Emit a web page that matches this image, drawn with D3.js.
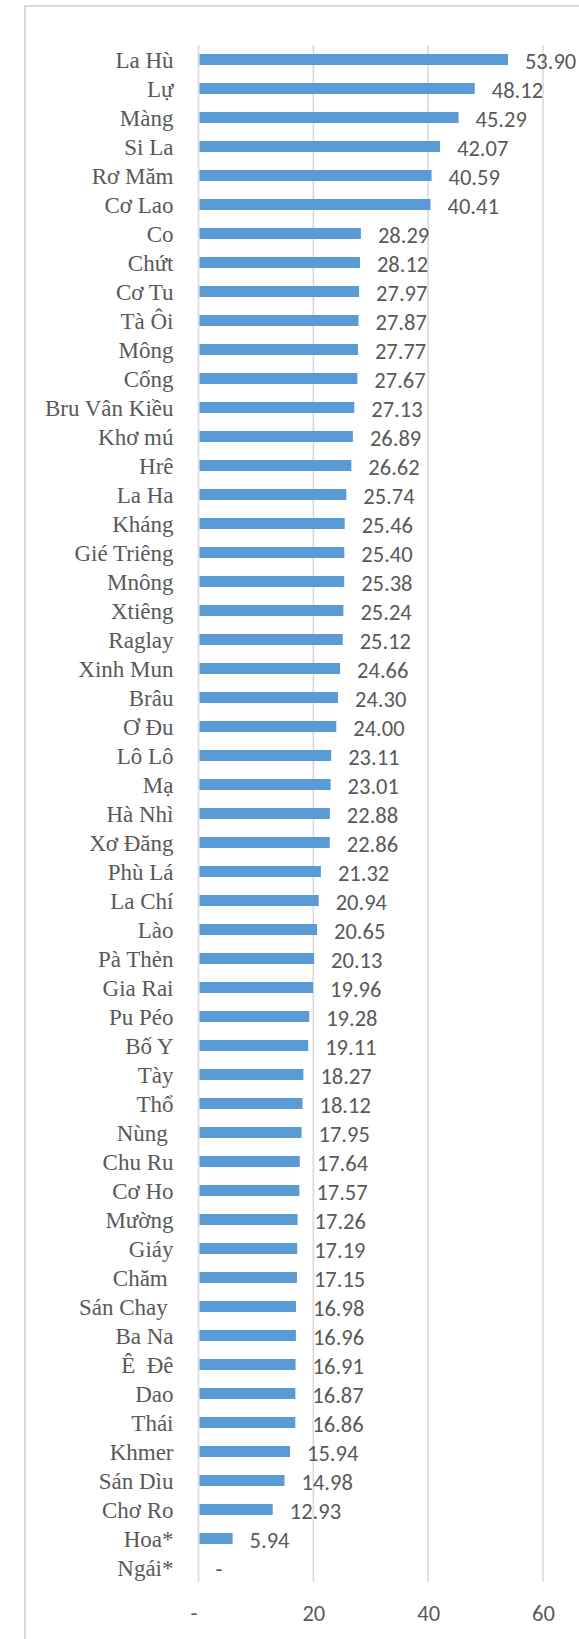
<!DOCTYPE html>
<html>
<head>
<meta charset="utf-8">
<script src="https://cdnjs.cloudflare.com/ajax/libs/d3/7.8.5/d3.min.js"></script>
<style>
    body { margin: 0; background: #ffffff; }
    svg { display: block; }
    text { white-space: pre; }
</style>
</head>
<body>
<script>
// categories, top to bottom
let groups = ['La Hù', 'Lự', 'Màng', 'Si La', 'Rơ Măm', 'Cơ Lao', 'Co', 'Chứt', 'Cơ Tu', 'Tà Ôi',
    'Mông', 'Cống', 'Bru Vân Kiều', 'Khơ mú', 'Hrê', 'La Ha', 'Kháng', 'Gié Triêng', 'Mnông', 'Xtiêng',
    'Raglay', 'Xinh Mun', 'Brâu', 'Ơ Đu', 'Lô Lô', 'Mạ', 'Hà Nhì', 'Xơ Đăng', 'Phù Lá', 'La Chí',
    'Lào', 'Pà Thẻn', 'Gia Rai', 'Pu Péo', 'Bố Y', 'Tày', 'Thổ', 'Nùng ', 'Chu Ru', 'Cơ Ho',
    'Mường', 'Giáy', 'Chăm ', 'Sán Chay ', 'Ba Na', 'Ê  Đê', 'Dao', 'Thái', 'Khmer', 'Sán Dìu',
    'Chơ Ro', 'Hoa*', 'Ngái*'];

let values = [53.90, 48.12, 45.29, 42.07, 40.59, 40.41, 28.29, 28.12, 27.97, 27.87,
    27.77, 27.67, 27.13, 26.89, 26.62, 25.74, 25.46, 25.40, 25.38, 25.24,
    25.12, 24.66, 24.30, 24.00, 23.11, 23.01, 22.88, 22.86, 21.32, 20.94,
    20.65, 20.13, 19.96, 19.28, 19.11, 18.27, 18.12, 17.95, 17.64, 17.57,
    17.26, 17.19, 17.15, 16.98, 16.96, 16.91, 16.87, 16.86, 15.94, 14.98,
    12.93, 5.94, 0];

let xTicks = [0, 20, 40, 60];

//---------------------------------------------------------------------------------------------------//

let rows = groups.map((g, i) => ({ name: g, value: values[i] }));
let valueFmt = v => v === 0 ? '-' : d3.format('.2f')(v);
let tickFmt = v => v === 0 ? '-' : d3.format('d')(v);

let serifFont = '"Liberation Serif", "Times New Roman", serif';
let labelFont = 'Carlito, "Open Sans", sans-serif';

let width = 579, height = 1639;
let svg = d3.select('body').append('svg').attr('width', width).attr('height', height);

// chart area border (right and bottom run off the picture)
svg.append('rect')
    .attr('x', 25).attr('y', 6)
    .attr('width', 600).attr('height', 1700)
    .attr('fill', '#ffffff')
    .attr('stroke', '#d9d9d9')
    .attr('stroke-width', 2);

let x = d3.scaleLinear().domain([0, 60]).range([198.5, 543]);
let y = d3.scaleBand().domain(groups).range([45, 1582]).paddingInner(0.62).paddingOuter(0.31);

// gridlines
svg.append('g').selectAll('line').data(xTicks).enter().append('line')
    .attr('x1', d => x(d)).attr('x2', d => x(d))
    .attr('y1', 45).attr('y2', 1582)
    .attr('stroke', '#d9d9d9')
    .attr('stroke-width', 1.6);

// bars
svg.append('g').selectAll('rect').data(rows).enter().append('rect')
    .attr('x', x(0) + 1)
    .attr('y', d => y(d.name))
    .attr('width', d => Math.max(0, x(d.value) - x(0) - 1))
    .attr('height', y.bandwidth())
    .attr('fill', '#5b9bd5');

// category labels
svg.append('g').selectAll('text').data(rows).enter().append('text')
    .attr('x', x(0) - 25)
    .attr('y', d => y(d.name) + y.bandwidth() / 2 + 8.5)
    .attr('text-anchor', 'end')
    .style('font-family', serifFont)
    .style('font-size', '23px')
    .style('fill', '#595959')
    .text(d => d.name);

// value labels
svg.append('g').selectAll('text').data(rows).enter().append('text')
    .attr('x', d => x(d.value) + 17)
    .attr('y', d => y(d.name) + y.bandwidth() / 2 + 9)
    .style('font-family', labelFont)
    .style('font-size', '22.5px')
    .style('fill', '#595959')
    .text(d => valueFmt(d.value));

// bottom axis
let xAxis = d3.axisBottom(x).tickValues(xTicks).tickFormat(tickFmt).tickSize(0).tickPadding(0);
let axisG = svg.append('g').attr('transform', 'translate(0, 1621)').call(xAxis);
axisG.select('.domain').remove();
axisG.selectAll('text')
    .attr('dy', 0)
    .attr('dx', d => d === 0 ? -5 : 0)
    .style('font-family', labelFont)
    .style('font-size', '22.5px')
    .style('fill', '#595959');
</script>
</body>
</html>
